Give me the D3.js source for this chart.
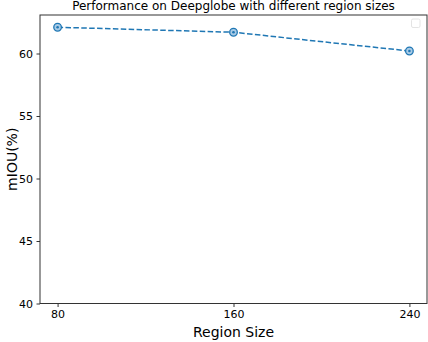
<!DOCTYPE html>
<html>
<head>
<meta charset="utf-8">
<script src="https://cdn.jsdelivr.net/npm/d3@7"></script>
<style>
  body { margin: 0; background: #fff; }
  svg { font-family: "DejaVu Sans", sans-serif; }
</style>
</head>
<body>
<div id="chart"></div>
<script>
// chart data
const regionSizes = [80, 160, 240];
const miouValues = [62.1, 61.7, 60.2];
const xTicks = [80, 160, 240];
const yTicks = [40, 45, 50, 55, 60];

const W = 428, H = 342;
const margin = { top: 15, right: 1, bottom: 38.5, left: 40 };
const width = W - margin.left - margin.right;
const height = H - margin.top - margin.bottom;

const svg = d3.select("#chart").append("svg")
    .attr("width", W)
    .attr("height", H);

const g = svg.append("g")
    .attr("transform", "translate(" + margin.left + "," + margin.top + ")");

const x = d3.scaleLinear().domain([72, 248]).range([0, width]);
const y = d3.scaleLinear().domain([40, 63.08]).range([height, 0]);

// axes
const xAxis = g.append("g")
    .attr("transform", "translate(0," + height + ")")
    .call(d3.axisBottom(x).tickValues(xTicks).tickSize(3.5).tickPadding(3.5));
const yAxis = g.append("g")
    .call(d3.axisLeft(y).tickValues(yTicks).tickSize(3.5).tickPadding(3.5));

[xAxis, yAxis].forEach(a => {
    a.select(".domain").remove();
    a.selectAll("text").attr("font-size", 11).attr("fill", "#000")
        .attr("font-family", "DejaVu Sans, sans-serif");
    a.selectAll("line").attr("stroke", "#000").attr("stroke-width", 0.8);
});

// frame
g.append("rect")
    .attr("width", width)
    .attr("height", height)
    .attr("fill", "none")
    .attr("stroke", "#333")
    .attr("stroke-width", 1);

// line
const line = d3.line()
    .x((d, i) => x(regionSizes[i]))
    .y(d => y(d));

g.append("path")
    .datum(miouValues)
    .attr("d", line)
    .attr("fill", "none")
    .attr("stroke", "#1f77b4")
    .attr("stroke-width", 1.5)
    .attr("stroke-dasharray", "5.5,2.4");

const pts = g.selectAll(".pt")
    .data(miouValues)
    .enter().append("g")
    .attr("transform", (d, i) => "translate(" + x(regionSizes[i]) + "," + y(d) + ")");
pts.append("circle")
    .attr("r", 3.8)
    .attr("fill", "#a9cbe6")
    .attr("stroke", "#1f77b4")
    .attr("stroke-width", 1.3);
pts.append("circle")
    .attr("r", 1.3)
    .attr("fill", "#1f77b4");

// empty legend box
g.append("rect")
    .attr("x", width - 15.5)
    .attr("y", 4)
    .attr("width", 8.5)
    .attr("height", 8.5)
    .attr("rx", 1.5)
    .attr("fill", "#fff")
    .attr("stroke", "#ddd")
    .attr("stroke-width", 0.8);

// title and labels
svg.append("text")
    .attr("x", margin.left + width / 2)
    .attr("y", 10)
    .attr("text-anchor", "middle")
    .attr("font-size", 12)
    .text("Performance on Deepglobe with different region sizes");

svg.append("text")
    .attr("x", margin.left + width / 2)
    .attr("y", 337)
    .attr("text-anchor", "middle")
    .attr("font-size", 14)
    .text("Region Size");

svg.append("text")
    .attr("transform", "translate(17," + (margin.top + height / 2) + ") rotate(-90)")
    .attr("text-anchor", "middle")
    .attr("font-size", 14)
    .text("mIOU(%)");
</script>
</body>
</html>
